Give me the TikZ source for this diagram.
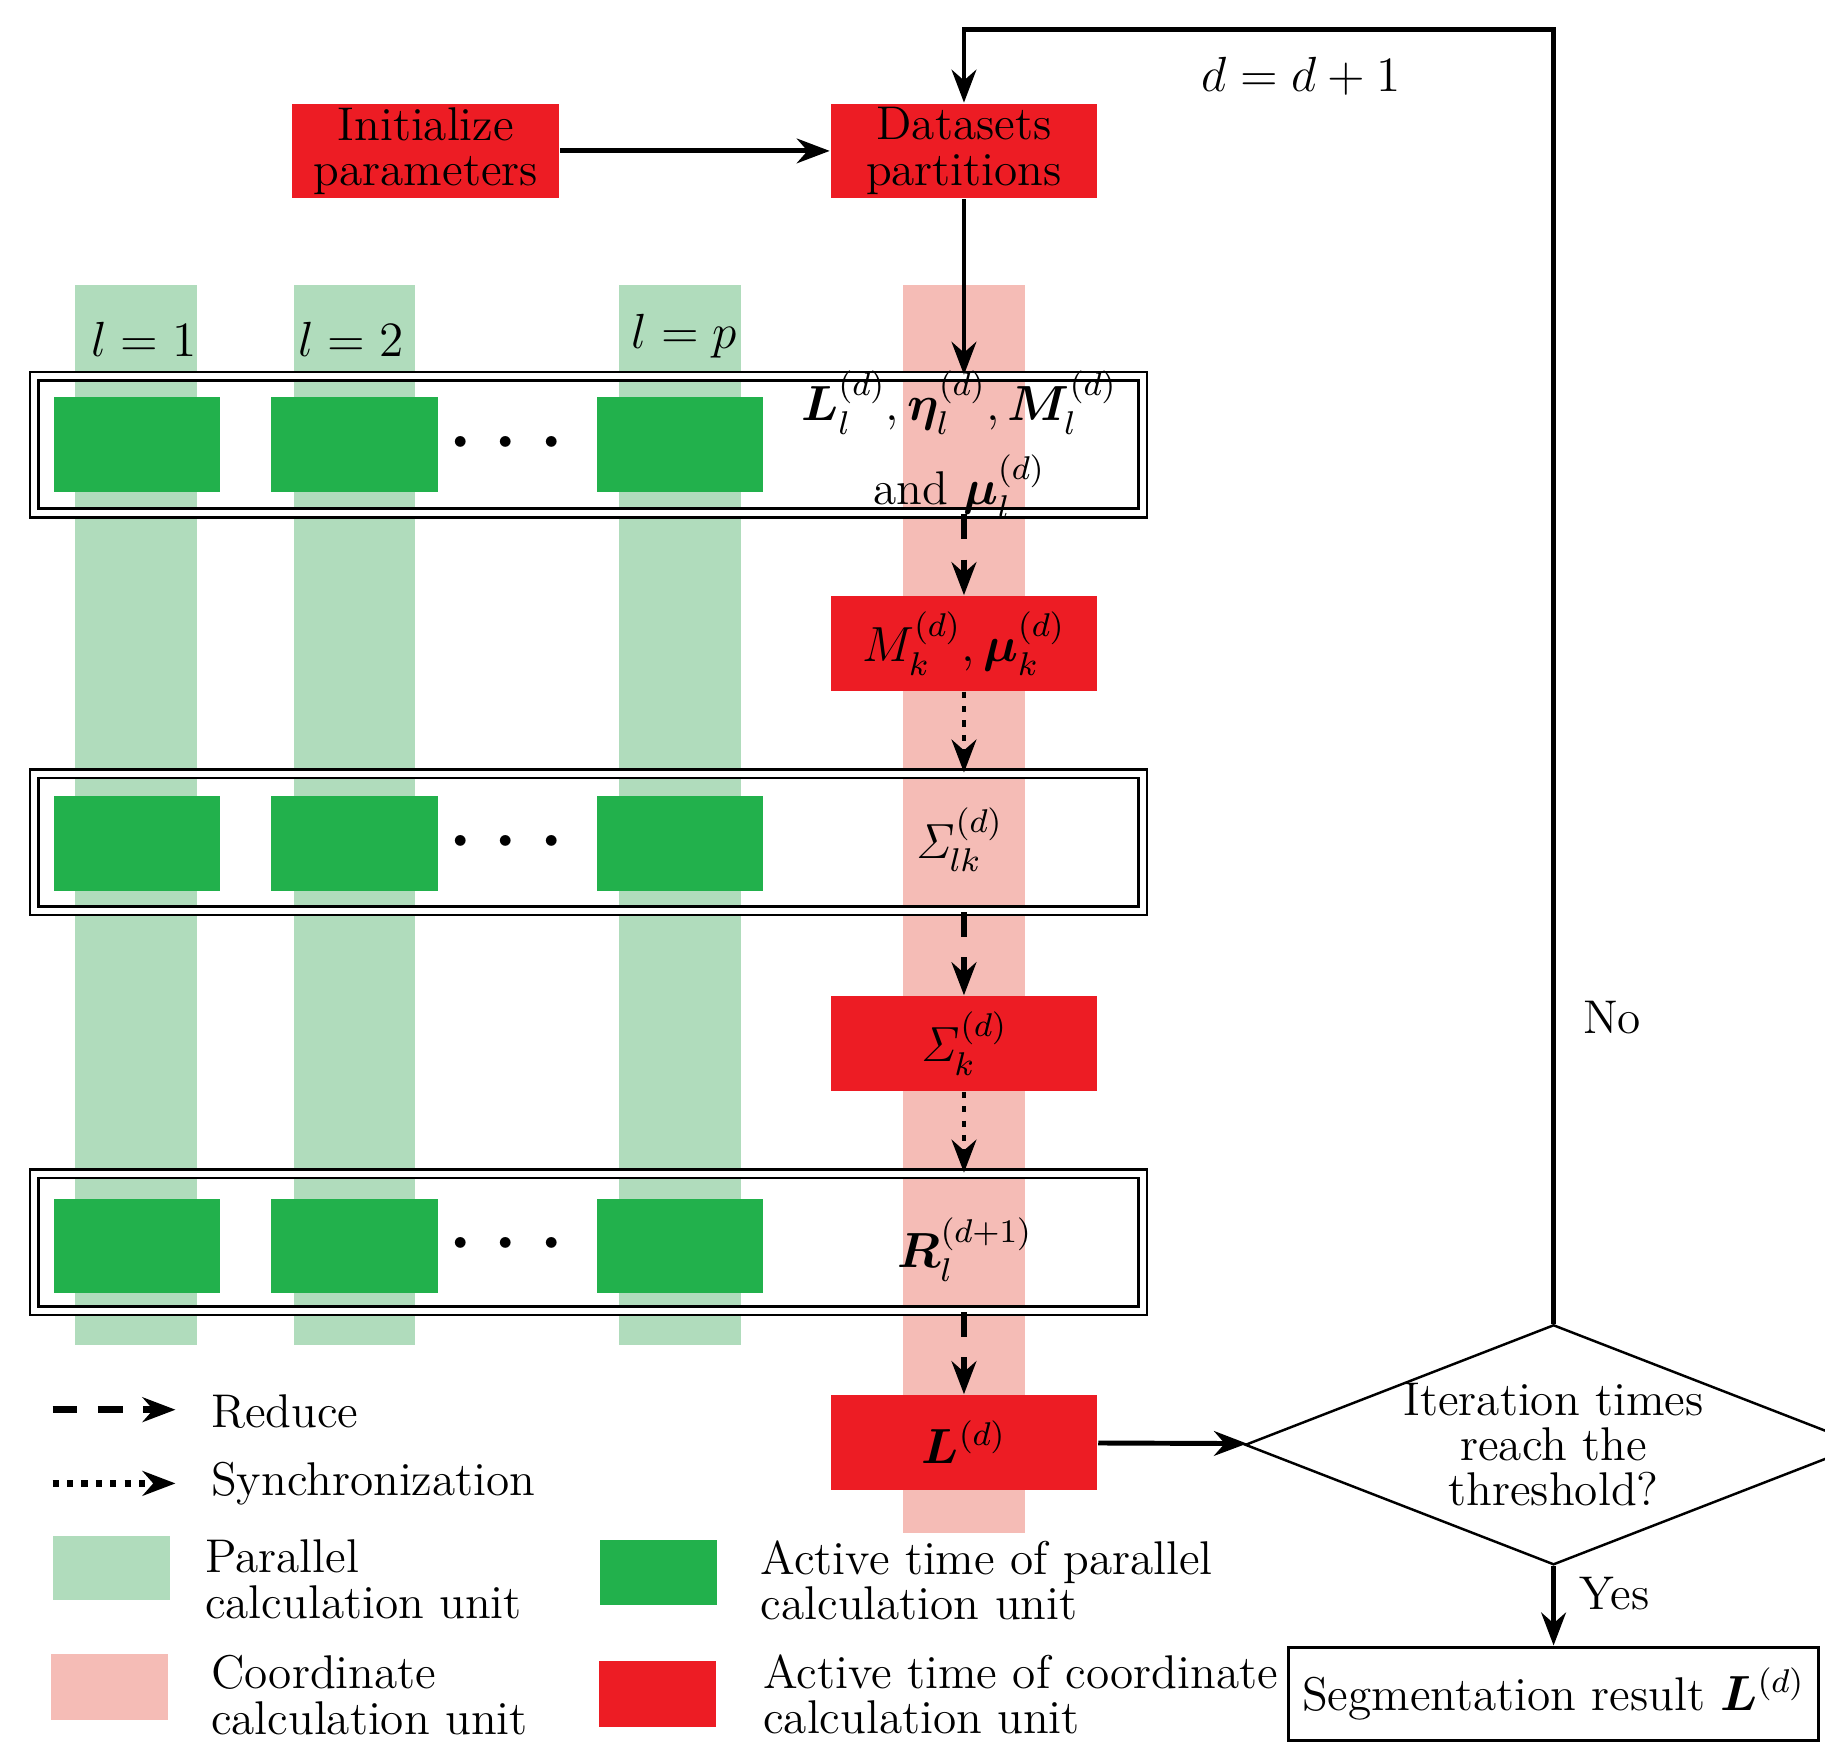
\documentclass[tikz,border=0pt]{standalone}
\usepackage{amsmath,bm}
\usetikzlibrary{arrows.meta,shapes.geometric}
\definecolor{lgreen}{HTML}{B0DCBC}
\definecolor{dgreen}{HTML}{22B14C}
\definecolor{lred}{HTML}{F5BCB6}
\definecolor{dred}{HTML}{ED1C24}
\begin{document}
\begin{tikzpicture}[x=0.01cm, y=-0.01cm, font=\fontsize{11.5}{11}\selectfont, >={Stealth[length=8pt,width=6pt]}]
    % Define styles
    \tikzset{
      redbox/.style={rectangle, fill=dred, minimum width=2.28cm, minimum height=0.81cm, inner sep=0pt, align=center},
      greenbox/.style={rectangle, fill=dgreen, minimum width=1.42cm, minimum height=0.81cm, inner sep=0pt},
      stage/.style={rectangle, draw, double, double distance=1.5pt, line width=0.6pt, minimum width=9.47cm, minimum height=1.17cm, inner sep=0pt},
      line/.style={draw, ->, line width=1.2pt},
      reduce/.style={draw, ->, line width=1.6pt, dash pattern=on 6pt off 5pt},
      sync/.style={draw, ->, line width=1.2pt, dash pattern=on 1.5pt off 2pt},
      legtext/.style={anchor=west, align=left}
    }
    \useasboundingbox (0,0) rectangle (1560,1500);

    % Background columns
    \foreach \cx/\nm in {116/1, 303/2, 581/p}
      \fill [lgreen] (\cx-52,244) rectangle (\cx+52,1150);
    \fill [lred] (772,244) rectangle (876,1310);
    \node at (123,290) {$l=1$};
    \node at (300,290) {$l=2$};
    \node at (585,287) {$l=p$};

    % Stages
    \node [stage] (stage1) at (503,380) {};
    \node [stage] (stage2) at (503,720) {};
    \node [stage] (stage3) at (503,1062) {};
    \foreach \cy in {380,721,1065} {
      \node [greenbox] at (117,\cy) {};
      \node [greenbox] at (303,\cy) {};
      \node [greenbox] at (581,\cy) {};
      \node at (440,\cy) {\Huge$\cdots$};
    }
    \node [align=center] at (820,380) {$\bm{L}_l^{(d)}, \bm{\eta}_l^{(d)}, \bm{M}_l^{(d)}$\\[4pt] and $\bm{\mu}_l^{(d)}$};
    \node at (820,718) {$\mathit{\Sigma}_{lk}^{(d)}$};
    \node at (825,1068) {$\bm{R}_l^{(d+1)}$};

    % Red boxes
    \node [redbox] (init) at (364,129) {Initialize\\parameters};
    \node [redbox] (data) at (824,129) {Datasets\\partitions};
    \node [redbox] (mk) at (824,550) {$M_k^{(d)}, \bm{\mu}_k^{(d)}$};
    \node [redbox] (sk) at (824,892) {$\mathit{\Sigma}_k^{(d)}$};
    \node [redbox] (ld) at (824,1233) {$\bm{L}^{(d)}$};

    % Decision and result
    \node [diamond, draw, aspect=2.57, minimum width=4.37cm, minimum height=1.7cm, inner sep=0pt, align=center, line width=0.6pt] (check) at (1328,1235) {Iteration times\\reach the\\threshold?};
    \node [rectangle, draw, line width=0.8pt, minimum width=4.37cm, minimum height=0.8cm] (result) at (1328,1448) {Segmentation result $\bm{L}^{(d)}$};
    \coordinate (top1) at (1328,25);
    \coordinate (top2) at (824,25);

    % Connectors
    \path [line] (init) -- (data);
    \path [line] (data) -- (stage1.north -| data);
    \path [reduce] (stage1.south -| mk) -- (mk);
    \path [sync] (mk) -- (stage2.north -| mk);
    \path [reduce] (stage2.south -| sk) -- (sk);
    \path [sync] (sk) -- (stage3.north -| sk);
    \path [reduce] (stage3.south -| ld) -- (ld);
    \path [line] (ld) -- (check);
    \path [line] (check.north) -- (top1) -- (top2) -- (data);
    \path [line] (check.south) -- (result);
    \node at (1112,65) {$d=d+1$};
    \node at (1378,870) {No};
    \node at (1380,1362) {Yes};

    % Legend
    \coordinate (r1) at (45,1205); \coordinate (r2) at (150,1205);
    \coordinate (s1) at (45,1268); \coordinate (s2) at (150,1268);
    \path [reduce] (r1) -- (r2);
    \path [sync, line width=1.6pt] (s1) -- (s2);
    \node [legtext] at (168,1207) {Reduce};
    \node [legtext] at (168,1268) {Synchronization};
    \fill [lgreen] (45,1313) rectangle (145,1368);
    \node [legtext] at (163,1350) {Parallel\\calculation unit};
    \fill [lred] (44,1414) rectangle (144,1470);
    \node [legtext] at (168,1449) {Coordinate\\calculation unit};
    \fill [dgreen] (513,1316) rectangle (613,1372);
    \node [legtext] at (638,1351) {Active time of parallel\\calculation unit};
    \fill [dred] (512,1420) rectangle (612,1476);
    \node [legtext] at (640,1448) {Active time of coordinate\\calculation unit};
\end{tikzpicture}
\end{document}
